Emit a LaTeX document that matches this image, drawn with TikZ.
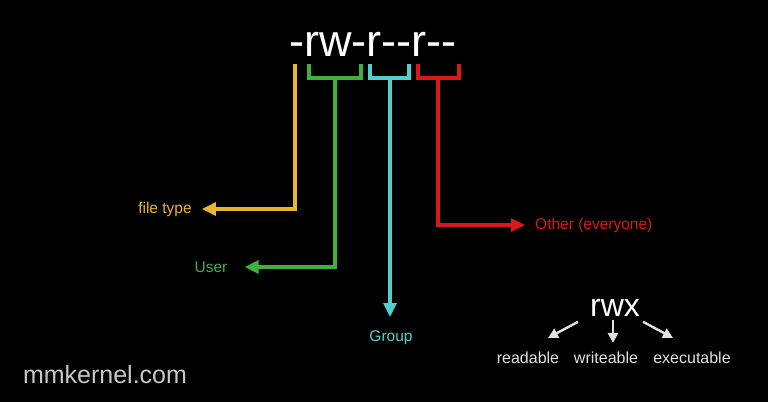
\documentclass[tikz,border=0pt]{standalone}
\usepackage{fontspec}
\setmainfont{Liberation Sans}
\newfontfamily\permfont{Liberation Sans}[Ligatures=TeXOff]
\usetikzlibrary{arrows.meta, positioning, calc}
\definecolor{ftyellow}{RGB}{232,182,42}
\definecolor{usergreen}{RGB}{62,176,60}
\definecolor{groupcyan}{RGB}{84,206,204}
\definecolor{otherred}{RGB}{214,26,26}
\definecolor{softwhite}{RGB}{225,225,225}

\begin{document}
\begin{tikzpicture}[x=1pt, y=-1pt,
    lbl/.style={font=\fontsize{15.5}{18}\selectfont, inner sep=0pt},
    bracket/.style={line width=3.2pt},
    arrow/.style={line width=3.2pt, -{Triangle[length=14pt, width=13pt]}},
    smallarrow/.style={line width=2.4pt, softwhite, -{Triangle[length=10pt, width=10pt]}}
  ]
    % background
    \fill[black] (0,0) rectangle (768,402);

    % Permission string
    \node[font=\permfont\fontsize{45}{50}\selectfont, white, inner sep=0pt] (perm) at (373,44) {-rw-r--r--};

    % Stems under the brackets
    \coordinate (ftstem) at (295,64);
    \coordinate (userstem) at (335,78);
    \coordinate (groupstem) at (390,78);
    \coordinate (otherstem) at (438,78);

    % Brackets
    \draw[bracket, usergreen] (309,64) |- (361,78) -- (361,64);
    \draw[bracket, groupcyan] (370,64) |- (409,78) -- (409,64);
    \draw[bracket, otherred] (418,64) |- (459,78) -- (459,64);

    % Labels
    \node[lbl, ftyellow] (filetype) at (165,209) {file type};
    \node[lbl, usergreen] (user) at (211,267) {User};
    \node[lbl, groupcyan, anchor=north] (group) at (391,330) {Group};
    \node[lbl, otherred, anchor=west] (other) at (535,225) {Other (everyone)};

    % Arrows
    \draw[arrow, ftyellow, shorten >=10pt] (ftstem) |- (filetype);
    \draw[arrow, usergreen, shorten >=17pt] (userstem) |- (user);
    \draw[arrow, groupcyan] (groupstem) -- (groupstem |- 0,317);
    \draw[arrow, otherred, shorten >=10pt] (otherstem) |- (other);

    % rwx legend
    \node[font=\fontsize{32}{36}\selectfont, white, inner sep=0pt] (rwx) at (615,308) {rwx};
    \node[lbl, softwhite, font=\fontsize{16}{18}\selectfont] (readable) at (528,358) {readable};
    \node[lbl, softwhite, font=\fontsize{16}{18}\selectfont] (writeable) at (606,358) {writeable};
    \node[lbl, softwhite, font=\fontsize{16}{18}\selectfont] (executable) at (692,358) {executable};

    \draw[smallarrow] ($(rwx.south west)+(-12,5)$) -- ($(readable.north)+(20,-14)$);
    \draw[smallarrow] ($(rwx.south)+(-2,3)$) -- ($(writeable.north)+(7,-9)$);
    \draw[smallarrow] ($(rwx.south east)+(3,5)$) -- ($(executable.north)+(-19,-14)$);

    % site name
    \node[font=\fontsize{25}{28}\selectfont, color={rgb,255:red,200;green,200;blue,200}, inner sep=0pt] (site) at (105,375) {mmkernel.com};
  \end{tikzpicture}
\end{document}
